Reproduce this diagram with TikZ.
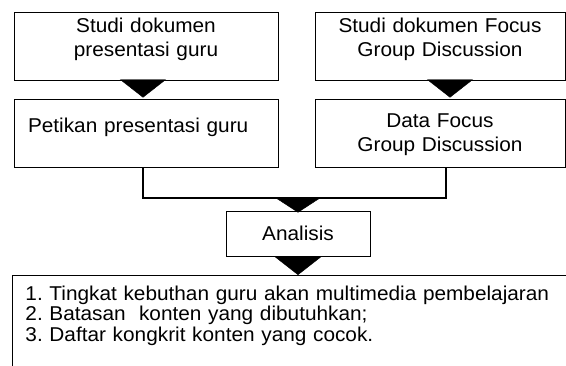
\documentclass[tikz,border=0pt]{standalone}
\usepackage{fontspec}
\setmainfont[FakeStretch=1.04]{Liberation Sans}
\usetikzlibrary{arrows.meta}
\frenchspacing

\tikzset{
    box/.style={draw, rectangle, line width=0.9pt, align=center, inner xsep=7pt, inner ysep=6pt, font=\fontsize{20}{24}\selectfont},
    bigtip/.style={-{Triangle[width=46pt,length=#1]}, line width=0.4pt},
    link/.style={line width=2pt},
}

\begin{document}
\begin{tikzpicture}[x=1pt,y=-1pt]
    \useasboundingbox (0,0) rectangle (566,366);
    \clip (0,0) rectangle (566,366);

    % sumber data
    \node (doc1) at (146,46) [box, text width=250pt, minimum height=68pt, text height=14.6pt, text depth=40.6pt] {Studi dokumen\\presentasi guru};
    \node (doc2) at (440,46) [box, text width=236pt, minimum height=68pt, text height=14.6pt, text depth=40.6pt] {Studi dokumen Focus\\Group Discussion};

    \node (pet) at (146,133) [box, align=left, inner xsep=14pt, text width=236pt, minimum height=68pt, text height=14.6pt, text depth=14.6pt] {Petikan presentasi guru};
    \node (fgd) at (440,133) [box, text width=236pt, minimum height=68pt, text height=14.6pt, text depth=24.6pt] {Data Focus\\Group Discussion};

    \node (ana) at (298,233.5) [box, minimum width=144pt, minimum height=45pt] {Analisis};

    \node (hasil) at (12,275) [box, anchor=north west, align=left, text width=576pt, inner xsep=13pt, inner ysep=10.4pt, text depth=80pt, font=\fontsize{20}{20.5}\selectfont]
        {1. Tingkat kebuthan guru akan multimedia pembelajaran\\2. Batasan~ konten yang dibutuhkan;\\3. Daftar kongkrit konten yang cocok.};

    % panah
    \draw[bigtip=18pt] ([xshift=-3pt]doc1.south) -- ([xshift=-3pt,yshift=1pt]pet.north);
    \draw[bigtip=18pt] ([xshift=10pt]doc2.south) -- ([xshift=10pt,yshift=1pt]fgd.north);

    \draw[link] ([xshift=-3pt]pet.south) -- ++(0,31) coordinate (join) -| ([xshift=6pt]fgd.south);
    \draw[bigtip=15pt] (ana.north |- join) -- ([yshift=-2pt]ana.north);
    \draw[bigtip=18pt] (ana.south) -- (ana.south |- hasil.north);

\end{tikzpicture}
\end{document}
